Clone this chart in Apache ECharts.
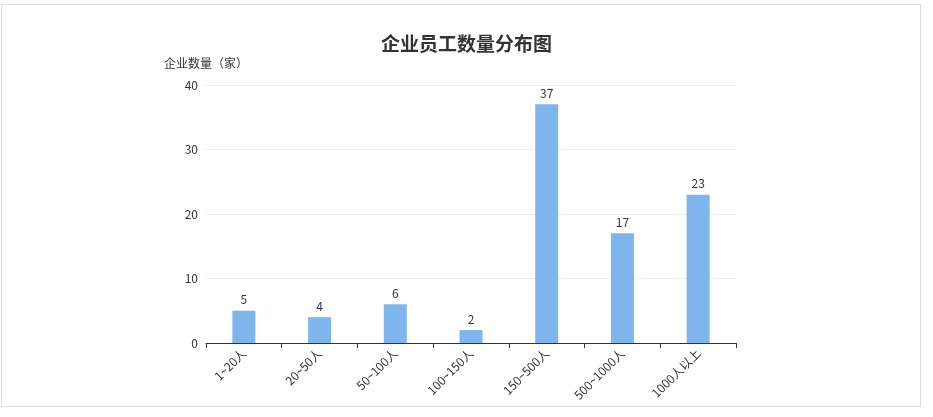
<!DOCTYPE html>
<html>
<head>
<meta charset="utf-8">
<script src="https://cdn.jsdelivr.net/npm/echarts@6/dist/echarts.min.js"></script>
<style>
  html, body { margin: 0; padding: 0; background: #fff; }
  #chartWrap { position: absolute; left: 0; top: 0; width: 933px; height: 417px; }
  #frame { position: absolute; left: 1px; top: 4px; width: 918px; height: 401px; border: 1px solid #dcdcdc; pointer-events: none; }
</style>
</head>
<body>
<div id="chartWrap"></div>
<div id="frame"></div>
<script>
// 数据
var categories = ['1~20人', '20~50人', '50~100人', '100~150人', '150~500人', '500~1000人', '1000人以上'];
var counts = [5, 4, 6, 2, 37, 17, 23];
var yTicks = { min: 0, max: 40, interval: 10 };

var myChart = echarts.init(document.getElementById('chartWrap'));

var option = {
    backgroundColor: '#fff',
    textStyle: { fontFamily: '"Microsoft YaHei", "Noto Sans CJK SC", sans-serif' },
    title: {
        text: '企业员工数量分布图',
        left: 'center',
        top: 29,
        textStyle: { fontSize: 19, fontWeight: 'bold', color: '#333' }
    },
    grid: {
        left: 206,
        right: 197,
        top: 85,
        bottom: 74
    },
    xAxis: {
        type: 'category',
        data: categories,
        axisLine: { lineStyle: { color: '#333' } },
        axisTick: { show: true, alignWithLabel: false, length: 5, lineStyle: { color: '#333' } },
        axisLabel: { rotate: 45, color: '#333', fontSize: 12, margin: 8, interval: 0 }
    },
    yAxis: {
        type: 'value',
        name: '企业数量（家）',
        nameGap: 16,
        nameTextStyle: { color: '#333', fontSize: 12 },
        min: yTicks.min,
        max: yTicks.max,
        interval: yTicks.interval,
        axisLine: { show: false },
        axisTick: { show: false },
        axisLabel: { color: '#333', fontSize: 12, margin: 8 },
        splitLine: { lineStyle: { color: '#eeeeee' } }
    },
    series: [{
        type: 'bar',
        data: counts,
        barWidth: 23,
        itemStyle: { color: '#7db5ec' },
        label: { show: true, position: 'top', color: '#333', fontSize: 12 }
    }]
};

myChart.setOption(option);
</script>
</body>
</html>
